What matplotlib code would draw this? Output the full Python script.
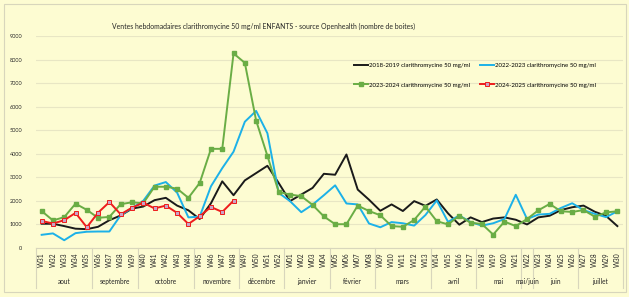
import matplotlib.pyplot as plt
from matplotlib.patches import Rectangle
import matplotlib.transforms as mtransforms

plt.rcParams['font.family'] = ['Lato', 'DejaVu Sans']

weeks = ['W31', 'W32', 'W33', 'W34', 'W35', 'W36', 'W37', 'W38', 'W39', 'W40',
         'W41', 'W42', 'W43', 'W44', 'W45', 'W46', 'W47', 'W48', 'W49', 'W50',
         'W51', 'W52', 'W01', 'W02', 'W03', 'W04', 'W05', 'W06', 'W07', 'W08',
         'W09', 'W10', 'W11', 'W12', 'W13', 'W14', 'W15', 'W16', 'W17', 'W18',
         'W19', 'W20', 'W21', 'W22', 'W23', 'W24', 'W25', 'W26', 'W27', 'W28',
         'W29', 'W30']

months = ['aout', 'septembre', 'octobre', 'novembre', 'décembre', 'janvier',
          'février', 'mars', 'avril', 'mai', 'mai/juin', 'juin', 'juillet']
month_weeks = [5, 4, 5, 4, 4, 4, 4, 5, 4, 4, 1, 4, 4]

s2018 = [1030, 1030, 930, 820, 800, 900, 1180, 1380, 1670, 1760,
         2030, 2130, 1800, 1600, 1230, 1900, 2830, 2240, 2870, 3180,
         3490, 2760, 1990, 2270, 2550, 3150, 3110, 3970, 2480, 2050,
         1580, 1850, 1570, 1990, 1790, 2060, 1470, 990, 1300, 1100,
         1250, 1300, 1200, 1000, 1300, 1370, 1610, 1730, 1800, 1540,
         1360, 930]
s2022 = [560, 620, 330, 630, 690, 700, 700, 1390, 1700, 2000,
         2650, 2800, 2350, 1300, 1330, 2620, 3390, 4090, 5360, 5820,
         4870, 2340, 1990, 1520, 1840, 2240, 2660, 1890, 1850, 1040,
         880, 1100, 1050, 950, 1400, 2020, 1110, 1380, 1100, 950,
         1050, 1230, 2260, 1230, 1420, 1450, 1700, 1900, 1610, 1450,
         1310, 1560]
s2023 = [1570, 1170, 1310, 1880, 1620, 1280, 1320, 1860, 1940, 1900,
         2600, 2600, 2520, 2130, 2760, 4210, 4210, 8260, 7860, 5410,
         3910, 2380, 2270, 2200, 1830, 1340, 1010, 1010, 1800, 1570,
         1390, 930, 900, 1190, 1760, 1140, 1000, 1370, 1070, 1020,
         570, 1120, 930, 1230, 1600, 1870, 1560, 1530, 1610, 1330,
         1510, 1560]
s2024 = [1150, 1040, 1180, 1490, 880, 1500, 1950, 1430, 1710, 1920,
         1680, 1800, 1490, 1020, 1350, 1740, 1530, 2010]

bg = '#fdfcd2'
grid_col = '#e8e6c4'
txt = '#262626'

fig = plt.figure(figsize=(6.29, 2.97), dpi=100)
fig.patch.set_facecolor(bg)
fig.patches.append(Rectangle((4 / 629, 5 / 297), 622 / 629, 288 / 297,
                             transform=fig.transFigure, fill=False,
                             edgecolor='#d8d6bc', linewidth=0.8))

ax = fig.add_axes([36 / 629, 49 / 297, 587 / 629, 212 / 297])
ax.set_facecolor(bg)

x = list(range(len(weeks)))
ax.plot(x, s2018, color='#1a1a1a', lw=1.4, label='2018-2019 clarithromycine 50 mg/ml')
ax.plot(x, s2022, color='#1cb1e8', lw=1.4, label='2022-2023 clarithromycine 50 mg/ml')
ax.plot(x, s2023, color='#6aad45', lw=1.4, marker='s', ms=3.2,
        label='2023-2024 clarithromycine 50 mg/ml')
ax.plot(x[:len(s2024)], s2024, color='#ee1c1c', lw=1.4, marker='s', ms=3.2,
        mfc='#c9a2c6', mec='#ee1c1c', mew=0.7,
        label='2024-2025 clarithromycine 50 mg/ml')

ax.set_xlim(-0.5, len(weeks) - 0.5)
ax.set_ylim(0, 9000)
ax.set_yticks(range(0, 9001, 1000))
ax.yaxis.grid(True, color=grid_col, lw=0.8)
ax.set_axisbelow(True)
for sp in ['top', 'right', 'left']:
    ax.spines[sp].set_visible(False)
ax.spines['bottom'].set_color('#d8d6bc')
ax.spines['bottom'].set_linewidth(0.8)

ax.set_xticks(x)
ax.set_xticklabels(weeks, rotation=90, fontsize=4.8, color=txt)
ax.tick_params(axis='x', length=0, pad=3)
ax.tick_params(axis='y', length=0, pad=10, labelsize=4.0, labelcolor=txt)

# month grouping under the week labels
trans = mtransforms.blended_transform_factory(ax.transData, ax.transAxes)
start = 0
bounds = [-0.5]
for name, n in zip(months, month_weeks):
    ax.text(start + (n - 1) / 2, -0.16, name, transform=trans,
            ha='center', va='center', fontsize=4.7, color=txt)
    start += n
    bounds.append(start - 0.5)
for b in bounds:
    ax.plot([b, b], [0, -0.19], transform=trans, color='#d8d6bc',
            lw=0.8, clip_on=False)

fig.text(264 / 629, 1 - 26 / 297,
         'Ventes hebdomadaires clarithromycine 50 mg/ml ENFANTS - source Openhealth (nombre de boites)',
         ha='center', va='center', fontsize=4.95, color=txt)

h, l = ax.get_legend_handles_labels()
order = [0, 2, 1, 3]
ax.legend([h[i] for i in order], [l[i] for i in order], ncol=2,
          loc='upper left', bbox_to_anchor=(354 / 629, 1 - 63 / 297),
          bbox_transform=fig.transFigure, frameon=False, fontsize=4.4,
          handlelength=2.3, handletextpad=0.2, columnspacing=1.6,
          labelspacing=2.3, borderpad=0, borderaxespad=0)

fig.savefig('out.png', dpi=100, facecolor=bg)
